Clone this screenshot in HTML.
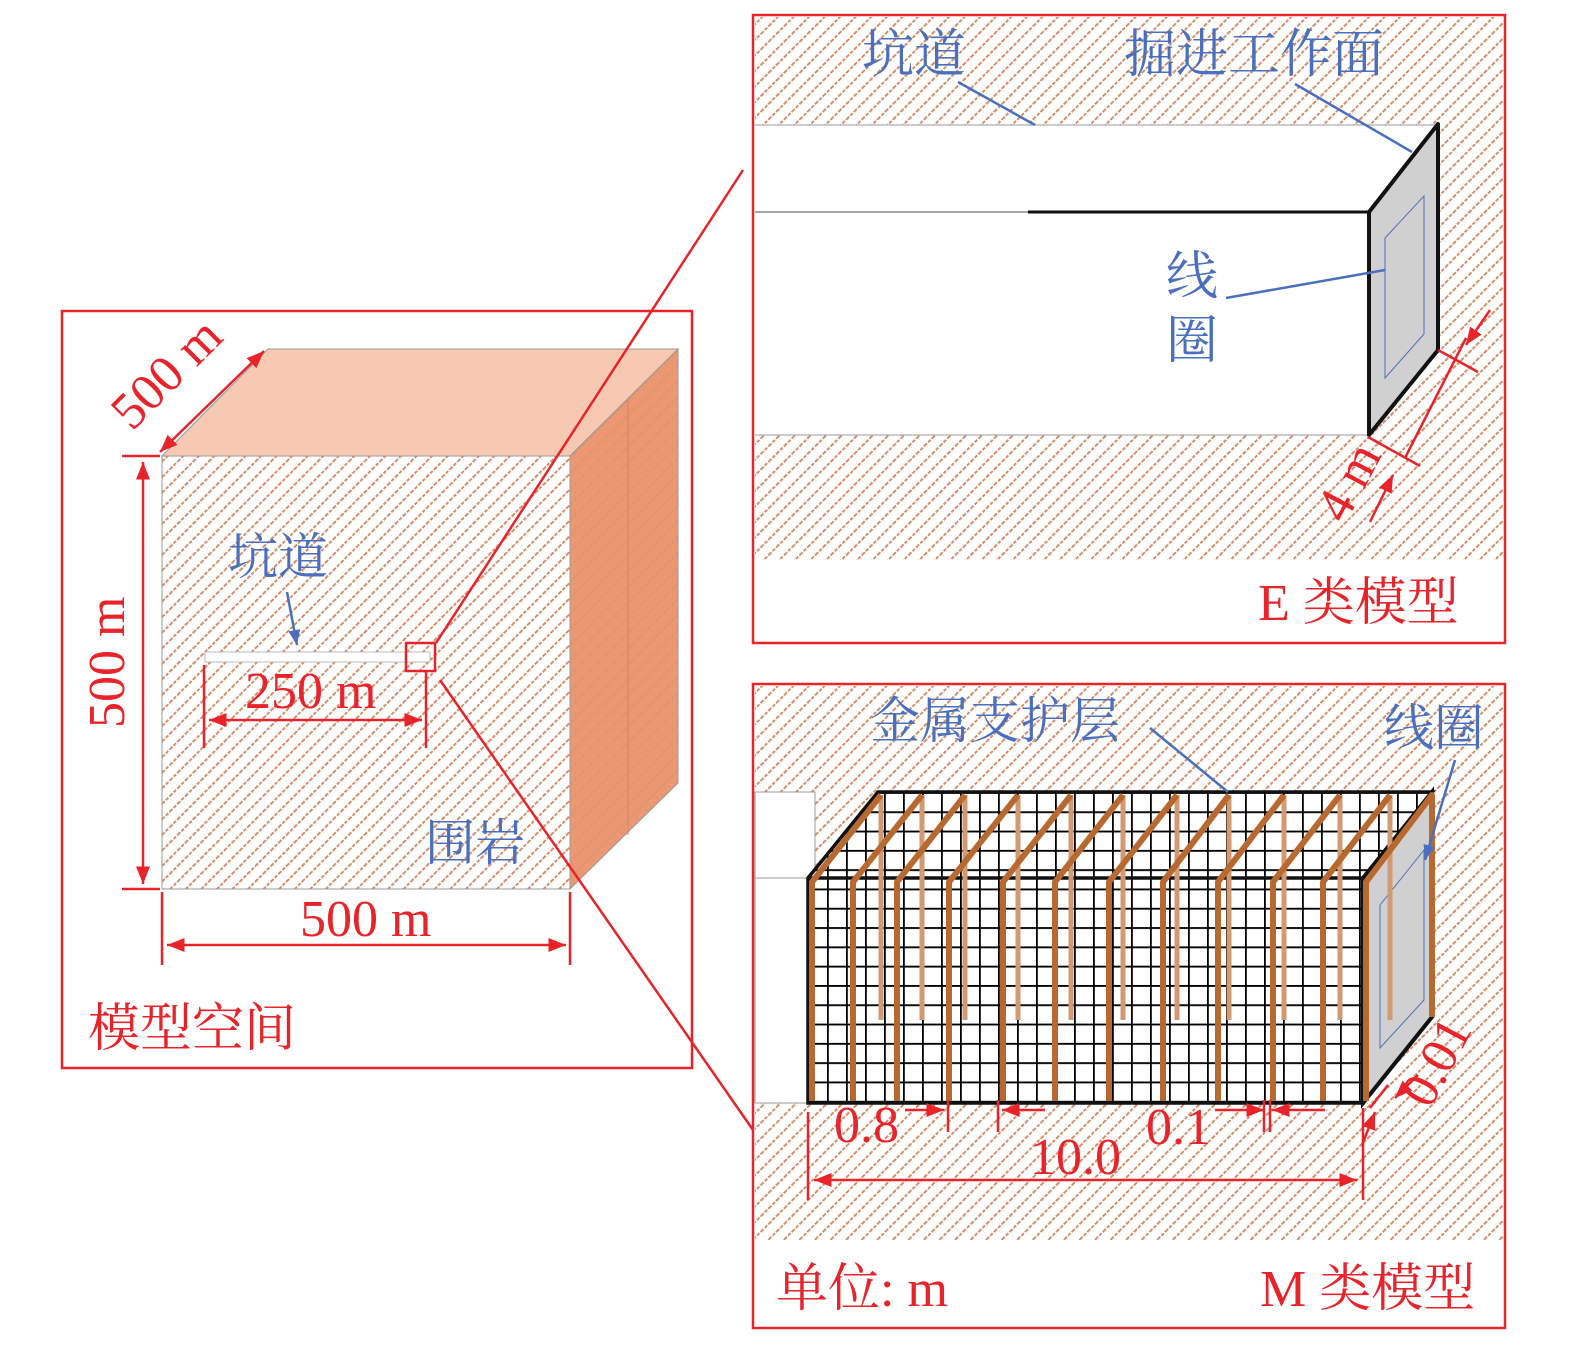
<!DOCTYPE html>
<html><head><meta charset="utf-8"><style>
body{margin:0;background:#fff}
svg text{font-family:"Liberation Serif","Noto Serif CJK SC",serif}
</style></head><body>
<svg width="1575" height="1348" viewBox="0 0 1575 1348" xmlns="http://www.w3.org/2000/svg">
<defs>
<pattern id="h" patternUnits="userSpaceOnUse" width="11" height="11" patternTransform="rotate(45)">
<line x1="1" y1="0" x2="1" y2="11" stroke="#d58f6a" stroke-width="2" stroke-dasharray="3.5,1.5"/>
</pattern>
<pattern id="g" patternUnits="userSpaceOnUse" x="808" y="792" width="19" height="19.3">
<path d="M0 0V19.3M0 0H19" stroke="#000" stroke-width="3.6" fill="none"/>
</pattern>
<marker id="a" viewBox="0 0 10 10" refX="10" refY="5" markerWidth="7" markerHeight="7" orient="auto-start-reverse"><path d="M0 1L10 5L0 9z" fill="#e8232a"/></marker>
<marker id="b" viewBox="0 0 10 10" refX="10" refY="5" markerWidth="6" markerHeight="6" orient="auto"><path d="M0 1L10 5L0 9z" fill="#4a6fbf"/></marker>
<clipPath id="mc"><polygon points="808,878 878,792 1432,792 1363,878 1363,1103 808,1103"/></clipPath>
</defs>

<!-- LEFT PANEL -->
<rect x="62" y="311" width="630" height="757" fill="#fff" stroke="#e8232a" stroke-width="2.5"/>
<polygon points="162,456 268,349 678,349 570,456" fill="#f7c9b2" stroke="#999" stroke-width="1"/>
<polygon points="570,456 678,349 678,783 570,889" fill="#eb9872" stroke="#999" stroke-width="1"/>
<line x1="628" y1="400" x2="628" y2="835" stroke="#d98060" stroke-width="1"/>
<rect x="162" y="456" width="408" height="433" fill="url(#h)" stroke="#999"/>
<polygon points="570,456 678,349 678,783 570,889" fill="url(#h)" opacity="0.5"/>
<rect x="205" y="652" width="225" height="10" fill="#fff" stroke="#bbb"/>
<rect x="406" y="643" width="29" height="28" fill="none" stroke="#e8232a" stroke-width="2.5"/>
<line x1="436" y1="643" x2="743" y2="170" stroke="#e8232a" stroke-width="2.5"/>
<line x1="440" y1="680" x2="753" y2="1130" stroke="#e8232a" stroke-width="2.5"/>
<g stroke="#e8232a" stroke-width="2.5">
<line x1="143" y1="462" x2="143" y2="884" marker-start="url(#a)" marker-end="url(#a)"/>
<line x1="122" y1="456" x2="160" y2="456"/><line x1="122" y1="889" x2="160" y2="889"/>
<line x1="167" y1="945" x2="566" y2="945" marker-start="url(#a)" marker-end="url(#a)"/>
<line x1="162" y1="892" x2="162" y2="965"/><line x1="570" y1="892" x2="570" y2="965"/>
<line x1="160" y1="452" x2="264" y2="351" marker-start="url(#a)" marker-end="url(#a)"/>
<line x1="209" y1="720" x2="422" y2="720" marker-start="url(#a)" marker-end="url(#a)"/>
<line x1="204" y1="665" x2="204" y2="748"/><line x1="426" y1="672" x2="426" y2="748"/>
</g>
<line x1="287" y1="592" x2="297" y2="645" stroke="#4a6fbf" stroke-width="2.5" marker-end="url(#b)"/>
<g font-size="52" fill="#e8232a">
<text x="300" y="936">500 m</text>
<text x="245" y="708">250 m</text>
<text transform="translate(124,728) rotate(-90)">500 m</text>
<text transform="translate(132,432) rotate(-45)">500 m</text>
<text x="88" y="1046">模型空间</text>
</g>
<g font-size="50" fill="#4a6fbf">
<text x="228" y="574">坑道</text>
<text x="425" y="860">围岩</text>
</g>

<!-- TOP RIGHT -->
<rect x="753" y="15" width="752" height="628" fill="#fff" stroke="#e8232a" stroke-width="2.5"/>
<rect x="755" y="17" width="748" height="543" fill="url(#h)"/>
<polygon points="755,125 1438,125 1369,212 1369,435 755,435" fill="#fff"/>
<line x1="755" y1="125" x2="1438" y2="125" stroke="#999" stroke-width="1"/>
<line x1="755" y1="435" x2="1369" y2="435" stroke="#999" stroke-width="1"/>
<line x1="755" y1="212" x2="1028" y2="212" stroke="#888" stroke-width="1.5"/>
<line x1="1028" y1="212" x2="1369" y2="212" stroke="#111" stroke-width="3"/>
<polygon points="1369,212 1438,124 1438,350 1369,435" fill="#d0d0d0" stroke="#111" stroke-width="4" stroke-linejoin="round"/>
<polygon points="1385,238 1424,196 1424,334 1385,378" fill="none" stroke="#4a6fbf" stroke-width="1"/>
<g stroke="#4a6fbf" stroke-width="2.5">
<line x1="958" y1="82" x2="1035" y2="125"/>
<line x1="1295" y1="84" x2="1412" y2="152"/>
<line x1="1226" y1="298" x2="1385" y2="270"/>
</g>
<g stroke="#e8232a" stroke-width="2.5">
<line x1="1368" y1="437" x2="1420" y2="466"/>
<line x1="1438" y1="350" x2="1478" y2="372"/>
<line x1="1405" y1="458" x2="1466" y2="338"/>
<line x1="1370" y1="522" x2="1393" y2="475" marker-end="url(#a)"/>
<line x1="1490" y1="310" x2="1466" y2="345" marker-end="url(#a)"/>
</g>
<g font-size="52" fill="#4a6fbf">
<text x="862" y="72">坑道</text>
<text x="1124" y="72">掘进工作面</text>
<text x="1166" y="294">线</text>
<text x="1166" y="358">圈</text>
</g>
<text font-size="52" fill="#e8232a" x="1258" y="620">E 类模型</text>
<text font-size="52" fill="#e8232a" transform="translate(1345,525) rotate(-62)">4 m</text>

<!-- BOTTOM RIGHT -->
<rect x="753" y="684" width="752" height="644" fill="#fff" stroke="#e8232a" stroke-width="2.5"/>
<rect x="755" y="686" width="748" height="554" fill="url(#h)"/>
<rect x="755" y="792" width="60" height="311" fill="#fff" stroke="#999" stroke-width="1"/>
<line x1="755" y1="878" x2="808" y2="878" stroke="#999"/>
<polygon points="808,878 878,792 1432,792 1363,878 1363,1103 808,1103" fill="#fff"/>
<rect x="800" y="785" width="640" height="330" fill="url(#g)" clip-path="url(#mc)"/>
<polygon points="808,878 878,792 1432,792 1363,878 1363,1103 808,1103" fill="none" stroke="#111" stroke-width="3.5"/>
<line x1="808" y1="878" x2="1363" y2="878" stroke="#111" stroke-width="3.5"/>
<polygon points="1363,878 1432,792 1432,1017 1363,1103" fill="#d0d0d0" stroke="#111" stroke-width="4"/>
<polygon points="1380,905 1424,850 1424,1000 1380,1048" fill="none" stroke="#4a6fbf" stroke-width="1"/>
<g stroke="#d29a72" stroke-width="5" fill="none">
<path d="M881 795V1020M922 795V1020M965 795V1020M1018 795V1020M1071 795V1020M1123 795V1020M1177 795V1020M1229 795V1020M1284 795V1020M1340 795V1020M1390 795V1020"/>
</g>
<g stroke="#b8692f" stroke-width="6" fill="none" stroke-linejoin="round">
<path d="M812 1101V882L881 795"/><path d="M853 1101V882L922 795"/><path d="M897 1101V882L965 795"/>
<path d="M949 1101V882L1018 795"/><path d="M1003 1101V882L1071 795"/><path d="M1055 1101V882L1123 795"/>
<path d="M1109 1101V882L1177 795"/><path d="M1163 1101V882L1229 795"/><path d="M1218 1101V882L1284 795"/>
<path d="M1273 1101V882L1340 795"/><path d="M1323 1101V882L1390 795"/><path d="M1366 1101V882L1432 795V1017"/>
</g>
<g stroke="#4a6fbf" stroke-width="2.5">
<line x1="1150" y1="728" x2="1228" y2="792"/>
<line x1="1455" y1="760" x2="1425" y2="860" marker-end="url(#b)"/>
</g>
<g stroke="#e8232a" stroke-width="2.5">
<line x1="808" y1="1112" x2="808" y2="1200"/>
<line x1="1363" y1="1108" x2="1363" y2="1200"/>
<line x1="814" y1="1180" x2="1357" y2="1180" marker-start="url(#a)" marker-end="url(#a)"/>
<line x1="905" y1="1110" x2="944" y2="1110" marker-end="url(#a)"/>
<line x1="948" y1="1100" x2="948" y2="1132"/><line x1="998" y1="1100" x2="998" y2="1132"/>
<line x1="1045" y1="1110" x2="1002" y2="1110" marker-end="url(#a)"/>
<line x1="1215" y1="1110" x2="1264" y2="1110" marker-end="url(#a)"/>
<line x1="1264" y1="1100" x2="1264" y2="1132"/><line x1="1270" y1="1100" x2="1270" y2="1132"/>
<line x1="1325" y1="1110" x2="1272" y2="1110" marker-end="url(#a)"/>
<line x1="1370" y1="1108" x2="1388" y2="1085"/>
<line x1="1418" y1="1075" x2="1395" y2="1098" marker-end="url(#a)"/>
<line x1="1362" y1="1145" x2="1375" y2="1112" marker-end="url(#a)"/>
</g>
<g font-size="52" fill="#e8232a">
<text x="834" y="1142">0.8</text>
<text x="1030" y="1174">10.0</text>
<text x="1146" y="1144">0.1</text>
<text transform="translate(1430,1110) rotate(-62)">0.01</text>
<text x="776" y="1306">单位: m</text>
<text x="1260" y="1306">M 类模型</text>
</g>
<g font-size="50" fill="#4a6fbf">
<text x="870" y="738">金属支护层</text>
<text x="1384" y="745">线圈</text>
</g>
</svg>
</body></html>
